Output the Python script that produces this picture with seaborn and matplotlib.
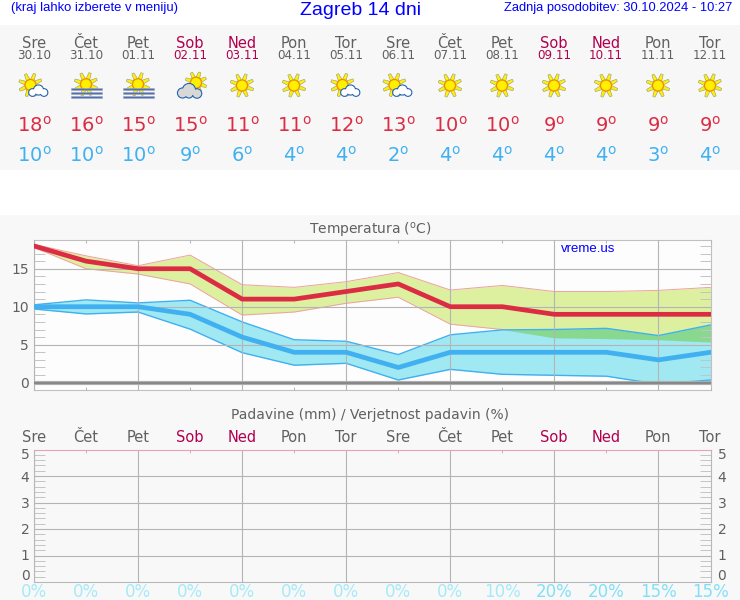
import matplotlib
matplotlib.use("Agg")
import matplotlib.pyplot as plt
from matplotlib.patches import Circle, Polygon, Rectangle
from matplotlib.ticker import FixedLocator
import numpy as np
import pandas as pd
import seaborn as sb

# podatki
dnevi = ['Sre', 'Čet', 'Pet', 'Sob', 'Ned', 'Pon', 'Tor', 'Sre', 'Čet', 'Pet', 'Sob', 'Ned', 'Pon', 'Tor']
datumi = ['30.10', '31.10', '01.11', '02.11', '03.11', '04.11', '05.11',
          '06.11', '07.11', '08.11', '09.11', '10.11', '11.11', '12.11']
ikone = ['sonce_oblak', 'megla', 'megla', 'oblak', 'sonce', 'sonce', 'sonce_oblak',
         'sonce_oblak', 'sonce', 'sonce', 'sonce', 'sonce', 'sonce', 'sonce']
t_max = [18, 16, 15, 15, 11, 11, 12, 13, 10, 10, 9, 9, 9, 9]
t_min = [10, 10, 10, 9, 6, 4, 4, 2, 4, 4, 4, 4, 3, 4]
max_zgoraj = [18.2, 16.7, 15.4, 16.8, 12.9, 12.55, 13.3, 14.5, 12.2, 12.8, 12.0, 12.0, 12.15, 12.55]
max_spodaj = [17.8, 15.0, 14.3, 13.0, 8.9, 9.3, 10.45, 11.25, 7.7, 7.0, 5.9, 5.8, 5.65, 5.35]
min_zgoraj = [10.25, 10.9, 10.5, 10.85, 8.0, 5.65, 5.45, 3.7, 6.3, 6.95, 7.0, 7.15, 6.2, 7.6]
min_spodaj = [9.7, 9.05, 9.3, 7.05, 3.95, 2.3, 2.55, 0.35, 1.75, 1.1, 0.97, 0.85, -0.2, 0.35]
verjetnost = [0, 0, 0, 0, 0, 0, 0, 0, 0, 10, 20, 20, 15, 15]

SIVA = '#606060'
VIKEND = '#b0004f'
RDECA = '#dc2c44'
MODRA = '#40b0f0'
MODRO_BESEDILO = '#0000ff'

sb.set_style('white')
plt.rcParams['font.family'] = ['DejaVu Sans']
plt.rcParams['mathtext.default'] = 'regular'

fig = plt.figure(figsize=(7.4, 6), dpi=100, facecolor='white')

# ozadje in besedila v pikslih
ozadje = fig.add_axes([0, 0, 1, 1], zorder=0)
ozadje.set_xlim(0, 740)
ozadje.set_ylim(600, 0)
ozadje.axis('off')
ozadje.add_patch(Rectangle((0, 25), 740, 145, color='#f7f7f7', lw=0))
ozadje.add_patch(Rectangle((0, 215), 740, 385, color='#f8f8f8', lw=0))

vrh = fig.add_axes([0, 0, 1, 1], zorder=5)
vrh.set_xlim(0, 740)
vrh.set_ylim(600, 0)
vrh.axis('off')
vrh.patch.set_alpha(0)


def barva_dneva(dan):
    return VIKEND if dan in ('Sob', 'Ned') else SIVA


def barva_verjetnosti(v):
    return '#80e0f8' if v > 10 else '#a4eaf8'


def narisi_sonce(ax, cx, cy, r=5.5, dolz=12):
    for kot in np.arange(8) * np.pi / 4 + 0.35:
        smer = np.array([np.cos(kot), np.sin(kot)])
        prav = np.array([-smer[1], smer[0]])
        c = np.array([cx, cy])
        tocke = [c + smer * r + prav * 1.9, c + smer * dolz + prav * 1.2,
                 c + smer * dolz - prav * 1.2, c + smer * r - prav * 1.9]
        ax.add_patch(Polygon(tocke, fc='#fbf010', ec='#9a9a70', lw=0.4))
    ax.add_patch(Circle((cx, cy), r, fc='#fff000', ec='#f09000', lw=0.9))


def narisi_oblak(ax, deli, polnilo):
    for cx, cy, r in deli:
        ax.add_patch(Circle((cx, cy), r + 1.1, fc='#2060b0', lw=0))
    for cx, cy, r in deli:
        ax.add_patch(Circle((cx, cy), r, fc=polnilo, lw=0))


def narisi_ikono(ax, x, vrsta):
    if vrsta == 'sonce':
        narisi_sonce(ax, x, 85.5)
    elif vrsta == 'sonce_oblak':
        narisi_sonce(ax, x - 3.5, 85)
        narisi_oblak(ax, [(x - 1.5, 92.5, 3.3), (x + 4.5, 90, 4.5), (x + 10, 92.5, 3.3)], 'white')
    elif vrsta == 'megla':
        narisi_sonce(ax, x, 84.3)
        for y in (89.3, 93.3, 97.3):
            ax.add_patch(Rectangle((x - 15, y - 1), 31, 2, fc='#5070b0', ec='#a0a8c0', lw=0.4))
    elif vrsta == 'oblak':
        narisi_sonce(ax, x + 6, 82.7, r=5.5, dolz=11)
        narisi_oblak(ax, [(x - 7.5, 93, 4.5), (x - 1, 90, 6), (x + 7, 93.5, 4.2), (x - 1, 94, 3.5)], '#d8d8d8')


x_dni = np.arange(len(dnevi))
x_pik = 34 + 52 * x_dni

# glava
vrh.text(11, 8.5, '(kraj lahko izberete v meniju)', color=MODRO_BESEDILO, fontsize=9.4,
         family='Liberation Sans', va='center')
vrh.text(361, 10.5, 'Zagreb 14 dni', color=MODRO_BESEDILO, fontsize=14,
         family='Liberation Sans', ha='center', va='center')
vrh.text(732, 8.5, 'Zadnja posodobitev: 30.10.2024 - 10:27', color=MODRO_BESEDILO, fontsize=9.3,
         family='Liberation Sans', ha='right', va='center')

for i, x in enumerate(x_pik):
    vrh.text(x, 43, dnevi[i], color=barva_dneva(dnevi[i]), fontsize=10.5, ha='center', va='center')
    vrh.text(x, 55.5, datumi[i], color=barva_dneva(dnevi[i]), fontsize=8.6, ha='center', va='center')
    narisi_ikono(vrh, x, ikone[i])
    vrh.text(x, 126, '%d$^{o}$' % t_max[i], color=RDECA, fontsize=14, ha='center', va='center')
    vrh.text(x, 156, '%d$^{o}$' % t_min[i], color=MODRA, fontsize=14, ha='center', va='center')
    vrh.text(x, 437, dnevi[i], color=barva_dneva(dnevi[i]), fontsize=10.5, ha='center', va='center')
    vrh.text(x, 592, '%d%%' % verjetnost[i], color=barva_verjetnosti(verjetnost[i]), fontsize=12,
             ha='center', va='center')

vrh.text(370, 230, 'Temperatura ($^{o}$C)', color=SIVA, fontsize=10, ha='center', va='center')
vrh.text(370, 415.5, 'Padavine (mm) / Verjetnost padavin (%)', color=SIVA, fontsize=10, ha='center', va='center')

# temperatura
ax = fig.add_axes([34 / 740, 1 - 389.5 / 600, 676.5 / 740, 150 / 600], zorder=2)
ax.set_facecolor('#fdfdfd')
ax.fill_between(x_dni, max_spodaj, max_zgoraj, color='#dcf0a0', lw=0, zorder=1)
ax.plot(x_dni, max_zgoraj, color='#f0a0a0', lw=0.7, zorder=1.1)
ax.plot(x_dni, max_spodaj, color='#f0a0a0', lw=0.7, zorder=1.1)
ax.fill_between(x_dni, min_spodaj, min_zgoraj, color='#a0e8f2', lw=0, zorder=1.2)
ax.fill_between(x_dni, max_spodaj, min_zgoraj, where=np.array(min_zgoraj) > np.array(max_spodaj),
                interpolate=True, color='#88d890', lw=0, zorder=1.3)
ax.plot(x_dni, min_zgoraj, color=MODRA, lw=1.0, zorder=2)
ax.plot(x_dni, min_spodaj, color=MODRA, lw=1.0, zorder=2)
ax.axhline(0, color='#b0b0b0', lw=3.0, zorder=3)
ax.axhline(0, color='#888888', lw=1.5, zorder=3)

df_temp = pd.DataFrame({'dan': x_dni, 'max': t_max, 'min': t_min})
sb.lineplot(data=df_temp, x='dan', y='min', color=MODRA, lw=3.4, ax=ax, zorder=4)
sb.lineplot(data=df_temp, x='dan', y='max', color=RDECA, lw=3.4, ax=ax, zorder=4)

ax.set_xlim(0, 13)
ax.set_ylim(-0.9, 18.85)
ax.set_xlabel('')
ax.set_ylabel('')
ax.set_yticks([0, 5, 10, 15])
ax.yaxis.set_minor_locator(FixedLocator([v for v in range(0, 19) if v % 5]))
ax.xaxis.set_major_locator(FixedLocator(range(0, 14, 2)))
ax.xaxis.set_minor_locator(FixedLocator(range(1, 14, 2)))
ax.set_xticklabels([])
ax.grid(True, which='major', color='#b4b4b4', lw=0.8)
ax.set_axisbelow(False)
ax.tick_params(axis='y', which='major', left=False, right=False, length=0, labelsize=10, labelcolor=SIVA, pad=3.5)
ax.tick_params(axis='y', which='minor', direction='in', left=True, right=True, length=7.7, width=0.7, color='#c4c4c4')
ax.tick_params(axis='x', which='major', bottom=False, top=False)
ax.tick_params(axis='x', which='minor', direction='in', bottom=True, top=True, length=2, width=0.7, color='#b4b4b4')
for rob in ax.spines.values():
    rob.set_color('#c0c0c0')
    rob.set_linewidth(0.8)
vrh.text(561, 249, 'vreme.us', color=MODRO_BESEDILO, fontsize=9.5, family='Liberation Sans', va='center')

# padavine
ax2 = fig.add_axes([34 / 740, 1 - 582 / 600, 676.5 / 740, 132.5 / 600], zorder=2)
ax2.set_facecolor('#f8f8f8')
ax2.set_xlim(0, 13)
ax2.set_ylim(0, 5)
ax2.set_yticks([1, 2, 3, 4])
ax2.set_yticklabels([])
ax2.yaxis.set_minor_locator(FixedLocator([v / 5 for v in range(1, 25) if v % 5]))
ax2.xaxis.set_major_locator(FixedLocator(range(0, 14, 2)))
ax2.xaxis.set_minor_locator(FixedLocator(range(1, 14, 2)))
ax2.set_xticklabels([])
ax2.grid(True, which='major', color='#b4b4b4', lw=0.8)
ax2.tick_params(axis='y', which='major', left=False, right=False)
ax2.tick_params(axis='y', which='minor', direction='in', left=True, right=True, length=7.7, width=0.7, color='#c4c4c4')
ax2.tick_params(axis='x', which='major', bottom=False, top=False)
ax2.tick_params(axis='x', which='minor', direction='in', bottom=False, top=True, length=2, width=0.7, color='#e8a0c0')
for strani, rob in ax2.spines.items():
    rob.set_linewidth(0.8)
    rob.set_color('#e8a0c0' if strani == 'top' else '#b8b8b8')

for vrednost, y in zip(range(6), [576, 556.5, 530, 504, 477.5, 455]):
    vrh.text(25, y, str(vrednost), color=SIVA, fontsize=10, ha='center', va='center')
    vrh.text(722, y, str(vrednost), color=SIVA, fontsize=10, ha='center', va='center')

fig.savefig('out.png', dpi=100, facecolor='white')
